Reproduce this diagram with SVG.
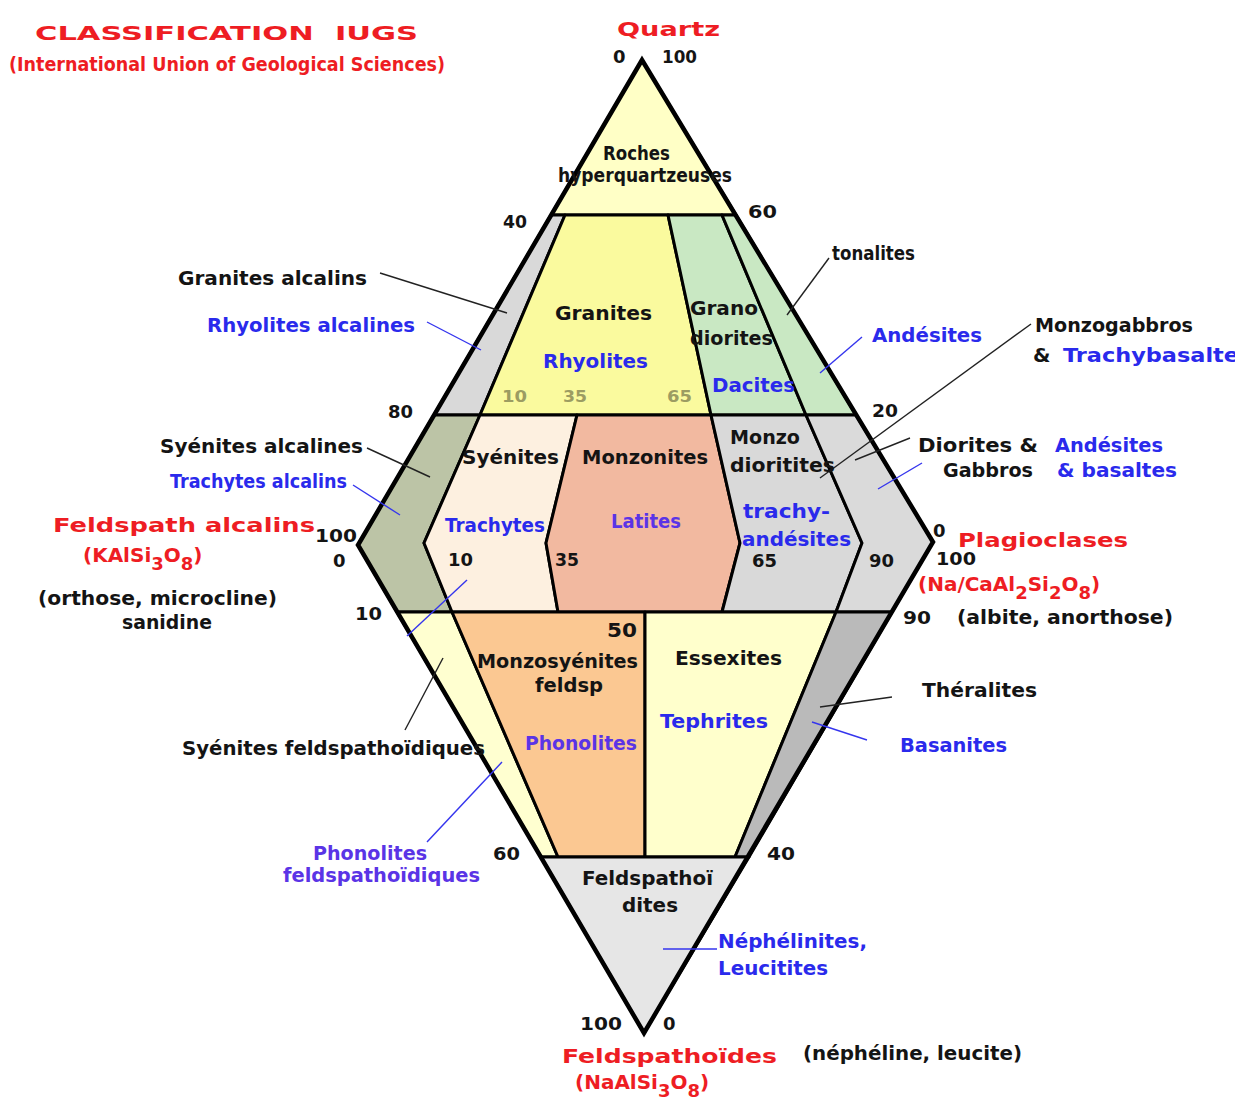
<svg xmlns="http://www.w3.org/2000/svg" width="1235" height="1104" viewBox="0 0 1235 1104">
<style>
text{font-family:"DejaVu Sans",sans-serif;font-size:20px}
.k{fill:#141414;font-weight:bold}
.b{fill:#2a2aec;font-weight:bold}
.p{fill:#5a34e6;font-weight:bold}
.r{fill:#ee1d23;font-weight:bold}
.o{fill:#9c9c62;font-size:16px;font-weight:bold}
.n{fill:#141414;font-size:18px;font-weight:bold}
.reg{stroke:#000;stroke-width:3;stroke-linejoin:round}
.lk{stroke:#222;stroke-width:1.4;fill:none}
.lb{stroke:#3535ee;stroke-width:1.4;fill:none}
</style>
<rect width="1235" height="1104" fill="#fff"/>

<g id="n-hyperquartz"><polygon class="reg" points="642,60 551,215 736,215" fill="#ffffc6"/></g>
<g id="n-granite-alc"><polygon class="reg" points="551,215 565,215 480,415 434,415" fill="#d9d9d9"/></g>
<g id="n-granite"><polygon class="reg" points="565,215 668,215 711,415 480,415" fill="#fafa9e"/></g>
<g id="n-granodiorite"><polygon class="reg" points="668,215 722,215 806,415 711,415" fill="#c9e8c3"/></g>
<g id="n-tonalite"><polygon class="reg" points="722,215 736,215 856,415 806,415" fill="#c9e8c3"/></g>
<g id="n-syenite-alc"><polygon class="reg" points="434,415 480,415 424,543 452,612 397,612 358,545" fill="#bcc4a6"/></g>
<g id="n-syenite"><polygon class="reg" points="480,415 577,415 546,543 558,612 452,612 424,543" fill="#fdf0e0"/></g>
<g id="n-monzonite"><polygon class="reg" points="577,415 711,415 740,543 722,612 558,612 546,543" fill="#f2b9a0"/></g>
<g id="n-monzodiorite"><polygon class="reg" points="711,415 806,415 862,543 836,612 722,612 740,543" fill="#d9d9d9"/></g>
<g id="n-diorite"><polygon class="reg" points="806,415 856,415 933,542 892,612 836,612 862,543" fill="#dadada"/></g>
<g id="n-foid-alc-syenite"><polygon class="reg" points="397,612 452,612 558,857 541,857" fill="#ffffd0"/></g>
<g id="n-foid-monzosyenite"><polygon class="reg" points="452,612 645,612 645,857 558,857" fill="#fbc892"/></g>
<g id="n-essexite"><polygon class="reg" points="645,612 836,612 735,857 645,857" fill="#ffffcc"/></g>
<g id="n-theralite"><polygon class="reg" points="836,612 892,612 749,857 735,857" fill="#bababa"/></g>
<g id="n-foidite"><polygon class="reg" points="541,857 749,857 644,1033" fill="#e6e6e6"/></g>

<g id="outline"><polygon points="642,60 933,542 644,1033 358,545" fill="none" stroke="#000" stroke-width="4.5" stroke-linejoin="miter"/></g>

<g id="connectors">
<line class="lk" x1="380" y1="273" x2="507" y2="313"/>
<line class="lb" x1="427" y1="322" x2="481" y2="350"/>
<line class="lk" x1="829" y1="258" x2="787" y2="315"/>
<line class="lb" x1="862" y1="337" x2="820" y2="373"/>
<line class="lk" x1="1031" y1="324" x2="820" y2="478"/>
<line class="lk" x1="910" y1="438" x2="855" y2="460"/>
<line class="lb" x1="922" y1="463" x2="878" y2="489"/>
<line class="lk" x1="367" y1="448" x2="430" y2="477"/>
<line class="lb" x1="353" y1="485" x2="400" y2="515"/>
<line class="lb" x1="467" y1="580" x2="407" y2="636"/>
<line class="lk" x1="405" y1="730" x2="443" y2="658"/>
<line class="lb" x1="427" y1="842" x2="502" y2="762"/>
<line class="lk" x1="892" y1="697" x2="820" y2="707"/>
<line class="lb" x1="867" y1="740" x2="812" y2="722"/>
<line class="lb" x1="663" y1="949" x2="717" y2="949"/>
</g>

<g id="region-labels">
<text class="k" x="603" y="160" font-size="17" textLength="67" lengthAdjust="spacingAndGlyphs">Roches</text>
<text class="k" x="558" y="182" font-size="17" textLength="174" lengthAdjust="spacingAndGlyphs">hyperquartzeuses</text>
<text class="k" x="555" y="320" font-size="21" textLength="97" lengthAdjust="spacingAndGlyphs">Granites</text>
<text class="b" x="543" y="368" font-size="21" textLength="105" lengthAdjust="spacingAndGlyphs">Rhyolites</text>
<text class="o" x="502" y="402" textLength="25" lengthAdjust="spacingAndGlyphs">10</text>
<text class="o" x="563" y="402" textLength="24" lengthAdjust="spacingAndGlyphs">35</text>
<text class="o" x="667" y="402" textLength="25" lengthAdjust="spacingAndGlyphs">65</text>
<text class="k" x="690" y="315" font-size="20" textLength="68" lengthAdjust="spacingAndGlyphs">Grano</text>
<text class="k" x="690" y="345" font-size="20" textLength="83" lengthAdjust="spacingAndGlyphs">diorites</text>
<text class="b" x="712" y="392" font-size="20" textLength="83" lengthAdjust="spacingAndGlyphs">Dacites</text>
<text class="k" x="462" y="464" font-size="21" textLength="97" lengthAdjust="spacingAndGlyphs">Syénites</text>
<text class="k" x="582" y="464" font-size="21" textLength="126" lengthAdjust="spacingAndGlyphs">Monzonites</text>
<text class="k" x="730" y="444" font-size="20" textLength="70" lengthAdjust="spacingAndGlyphs">Monzo</text>
<text class="k" x="730" y="472" font-size="20" textLength="105" lengthAdjust="spacingAndGlyphs">dioritites</text>
<text class="b" x="445" y="532" font-size="18" textLength="100" lengthAdjust="spacingAndGlyphs">Trachytes</text>
<text class="p" x="611" y="528" font-size="18" textLength="70" lengthAdjust="spacingAndGlyphs">Latites</text>
<text class="b" x="743" y="518" font-size="21" textLength="87" lengthAdjust="spacingAndGlyphs">trachy-</text>
<text class="b" x="742" y="546" font-size="21" textLength="109" lengthAdjust="spacingAndGlyphs">andésites</text>
<text class="n" x="448" y="566" font-size="17" textLength="25" lengthAdjust="spacingAndGlyphs">10</text>
<text class="n" x="555" y="566" font-size="17" textLength="24" lengthAdjust="spacingAndGlyphs">35</text>
<text class="n" x="752" y="567" font-size="17" textLength="25" lengthAdjust="spacingAndGlyphs">65</text>
<text class="n" x="869" y="567" font-size="17" textLength="25" lengthAdjust="spacingAndGlyphs">90</text>
<text class="k" x="607" y="637" font-size="19" textLength="30" lengthAdjust="spacingAndGlyphs">50</text>
<text class="k" x="477" y="668" font-size="20" textLength="161" lengthAdjust="spacingAndGlyphs">Monzosyénites</text>
<text class="k" x="535" y="692" font-size="20" textLength="68" lengthAdjust="spacingAndGlyphs">feldsp</text>
<text class="k" x="675" y="665" font-size="20" textLength="107" lengthAdjust="spacingAndGlyphs">Essexites</text>
<text class="b" x="660" y="728" font-size="20" textLength="108" lengthAdjust="spacingAndGlyphs">Tephrites</text>
<text class="p" x="525" y="750" font-size="20" textLength="112" lengthAdjust="spacingAndGlyphs">Phonolites</text>
<text class="k" x="582" y="885" font-size="20" textLength="131" lengthAdjust="spacingAndGlyphs">Feldspathoï</text>
<text class="k" x="622" y="912" font-size="20" textLength="56" lengthAdjust="spacingAndGlyphs">dites</text>
</g>

<g id="labels">
<text class="r" x="35" y="40" font-size="28" xml:space="preserve" textLength="383" lengthAdjust="spacingAndGlyphs">CLASSIFICATION  IUGS</text>
<text class="r" x="9" y="71" font-size="18" textLength="436" lengthAdjust="spacingAndGlyphs">(International Union of Geological Sciences)</text>
<text class="r" x="617" y="36" font-size="29" textLength="103" lengthAdjust="spacingAndGlyphs">Quartz</text>
<text class="n" x="613" y="63">0</text>
<text class="n" x="662" y="63" textLength="35" lengthAdjust="spacingAndGlyphs">100</text>
<text class="n" x="503" y="228" textLength="24" lengthAdjust="spacingAndGlyphs">40</text>
<text class="n" x="748" y="218" textLength="29" lengthAdjust="spacingAndGlyphs">60</text>
<text class="n" x="388" y="418" textLength="25" lengthAdjust="spacingAndGlyphs">80</text>
<text class="n" x="872" y="417" textLength="26" lengthAdjust="spacingAndGlyphs">20</text>
<text class="k" x="832" y="260" font-size="17" textLength="83" lengthAdjust="spacingAndGlyphs">tonalites</text>
<text class="k" x="178" y="285" textLength="189" lengthAdjust="spacingAndGlyphs">Granites alcalins</text>
<text class="b" x="207" y="332" textLength="208" lengthAdjust="spacingAndGlyphs">Rhyolites alcalines</text>
<text class="b" x="872" y="342" textLength="110" lengthAdjust="spacingAndGlyphs">Andésites</text>
<text class="k" x="1035" y="332" textLength="158" lengthAdjust="spacingAndGlyphs">Monzogabbros</text>
<text class="k" x="1033" y="362">&amp;</text>
<text class="b" x="1063" y="362" textLength="176" lengthAdjust="spacingAndGlyphs">Trachybasalte</text>
<text class="k" x="918" y="452" textLength="120" lengthAdjust="spacingAndGlyphs">Diorites &amp;</text>
<text class="b" x="1055" y="452" textLength="108" lengthAdjust="spacingAndGlyphs">Andésites</text>
<text class="k" x="943" y="477" textLength="90" lengthAdjust="spacingAndGlyphs">Gabbros</text>
<text class="b" x="1057" y="477" textLength="120" lengthAdjust="spacingAndGlyphs">&amp; basaltes</text>
<text class="k" x="160" y="453" textLength="203" lengthAdjust="spacingAndGlyphs">Syénites alcalines</text>
<text class="b" x="170" y="488" font-size="18" textLength="177" lengthAdjust="spacingAndGlyphs">Trachytes alcalins</text>
<text class="r" x="53" y="532" font-size="30" textLength="262" lengthAdjust="spacingAndGlyphs">Feldspath alcalins</text>
<text class="n" x="315" y="542" textLength="42" lengthAdjust="spacingAndGlyphs">100</text>
<text class="n" x="333" y="567">0</text>
<text class="r" x="83" y="562" font-size="23">(KAlSi<tspan font-size="18" dy="8">3</tspan><tspan dy="-8">O</tspan><tspan font-size="18" dy="8">8</tspan><tspan dy="-8">)</tspan></text>
<text class="k" x="38" y="605" textLength="239" lengthAdjust="spacingAndGlyphs">(orthose, microcline)</text>
<text class="k" x="122" y="629" font-size="19" textLength="90" lengthAdjust="spacingAndGlyphs">sanidine</text>
<text class="n" x="355" y="620" textLength="27" lengthAdjust="spacingAndGlyphs">10</text>
<text class="n" x="933" y="537">0</text>
<text class="r" x="958" y="547" font-size="29" textLength="170" lengthAdjust="spacingAndGlyphs">Plagioclases</text>
<text class="n" x="936" y="565" textLength="40" lengthAdjust="spacingAndGlyphs">100</text>
<text class="r" x="918" y="591" font-size="23">(Na/CaAl<tspan font-size="18" dy="8">2</tspan><tspan dy="-8">Si</tspan><tspan font-size="18" dy="8">2</tspan><tspan dy="-8">O</tspan><tspan font-size="18" dy="8">8</tspan><tspan dy="-8">)</tspan></text>
<text class="n" x="903" y="624" textLength="28" lengthAdjust="spacingAndGlyphs">90</text>
<text class="k" x="957" y="624" textLength="216" lengthAdjust="spacingAndGlyphs">(albite, anorthose)</text>
<text class="k" x="922" y="697" textLength="115" lengthAdjust="spacingAndGlyphs">Théralites</text>
<text class="b" x="900" y="752" textLength="107" lengthAdjust="spacingAndGlyphs">Basanites</text>
<text class="k" x="182" y="755" textLength="303" lengthAdjust="spacingAndGlyphs">Syénites feldspathoïdiques</text>
<text class="p" x="313" y="860" textLength="114" lengthAdjust="spacingAndGlyphs">Phonolites</text>
<text class="p" x="283" y="882" textLength="197" lengthAdjust="spacingAndGlyphs">feldspathoïdiques</text>
<text class="n" x="493" y="860" textLength="27" lengthAdjust="spacingAndGlyphs">60</text>
<text class="n" x="767" y="860" textLength="28" lengthAdjust="spacingAndGlyphs">40</text>
<text class="b" x="718" y="948" textLength="149" lengthAdjust="spacingAndGlyphs">Néphélinites,</text>
<text class="b" x="718" y="975" textLength="110" lengthAdjust="spacingAndGlyphs">Leucitites</text>
<text class="n" x="580" y="1030" textLength="42" lengthAdjust="spacingAndGlyphs">100</text>
<text class="n" x="663" y="1030">0</text>
<text class="r" x="562" y="1063" font-size="29" textLength="215" lengthAdjust="spacingAndGlyphs">Feldspathoïdes</text>
<text class="k" x="803" y="1060" textLength="219" lengthAdjust="spacingAndGlyphs">(néphéline, leucite)</text>
<text class="r" x="575" y="1089" font-size="23">(NaAlSi<tspan font-size="18" dy="8">3</tspan><tspan dy="-8">O</tspan><tspan font-size="18" dy="8">8</tspan><tspan dy="-8">)</tspan></text>
</g>
</svg>
